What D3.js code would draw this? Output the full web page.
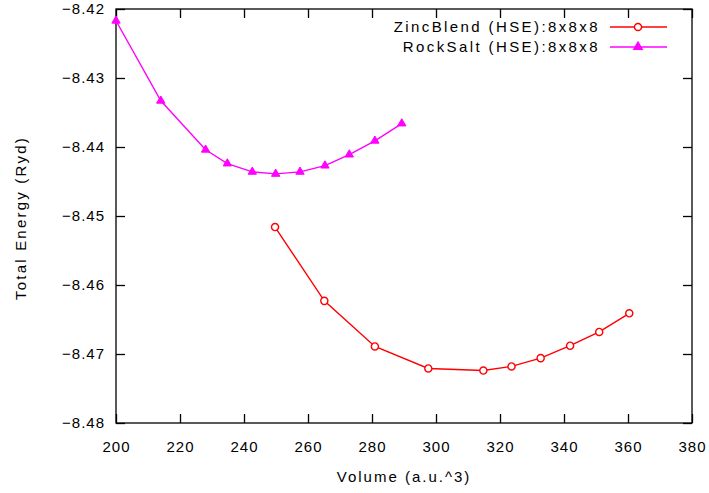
<!DOCTYPE html>
<html><head><meta charset="utf-8">
<script src="https://cdn.jsdelivr.net/npm/d3@7"></script>
<style>body{margin:0;background:#fff}svg{display:block}text{font-family:"Liberation Sans",Arial,sans-serif;fill:#000}</style>
</head><body><svg id="c" width="709" height="493"></svg>
<script>
const xTicks=[200,220,240,260,280,300,320,340,360,380];
const yTicks=[-8.42,-8.43,-8.44,-8.45,-8.46,-8.47,-8.48];
const seriesNames=["ZincBlend (HSE):8x8x8","RockSalt (HSE):8x8x8"];
const zbVolume=[249.7,265.1,280.9,297.6,314.8,323.6,332.7,341.9,351.0,360.4];
const zbEnergy=[-8.4516,-8.4623,-8.4689,-8.4721,-8.4724,-8.4718,-8.4706,-8.4688,-8.4668,-8.4641];
const rsVolume=[200.0,214.0,228.0,234.8,242.6,249.9,257.5,265.3,272.9,280.9,289.3];
const rsEnergy=[-8.4217,-8.4333,-8.4404,-8.4424,-8.4436,-8.4439,-8.4436,-8.4427,-8.4411,-8.4391,-8.4366];

const L=116,R=692,T=9,B=423;
const svg=d3.select("#c");
const x=d3.scaleLinear().domain([200,380]).range([L,R]);
const y=d3.scaleLinear().domain([-8.48,-8.42]).range([B,T]);
const tk=9;

svg.append("rect").attr("x",L).attr("y",T).attr("width",R-L).attr("height",B-T)
 .attr("fill","none").attr("stroke","#000").attr("stroke-width",1.3);

const xb=svg.append("g").attr("transform",`translate(0,${B})`)
 .call(d3.axisBottom(x).tickValues(xTicks).tickSize(-tk).tickPadding(tk+9).tickFormat(d3.format("d")));
const xt=svg.append("g").attr("transform",`translate(0,${T})`)
 .call(d3.axisTop(x).tickValues(xTicks).tickSize(-tk).tickFormat(""));
const yl=svg.append("g").attr("transform",`translate(${L},0)`)
 .call(d3.axisLeft(y).tickValues(yTicks).tickSize(-tk).tickPadding(tk+2).tickFormat(d3.format(".2f")));
const yr=svg.append("g").attr("transform",`translate(${R},0)`)
 .call(d3.axisRight(y).tickValues(yTicks).tickSize(-tk).tickFormat(""));
[xb,xt,yl,yr].forEach(g=>{g.select(".domain").remove();
 g.selectAll(".tick line").attr("stroke","#000").attr("stroke-width",1.3);
 g.selectAll("text").style("font-size","15px").style("letter-spacing","1px").style("font-family","'Liberation Sans',Arial,sans-serif").attr("fill","#000");});
xb.selectAll(".tick text").attr("dy","0.71em");

svg.append("text").attr("x",404).attr("y",482).attr("text-anchor","middle").style("font-size","15px").style("letter-spacing","2px").text("Volume (a.u.^3)");
svg.append("text").attr("transform",`translate(26,218) rotate(-90)`).attr("text-anchor","middle").style("font-size","15px").style("letter-spacing","2.2px").text("Total Energy (Ryd)");

const line=d3.line().x(d=>x(d[0])).y(d=>y(d[1]));
const zb=zbVolume.map((v,i)=>[v,zbEnergy[i]]);
const rs=rsVolume.map((v,i)=>[v,rsEnergy[i]]);

svg.append("path").attr("d",line(zb)).attr("fill","none").attr("stroke","#ff0000").attr("stroke-width",1.4);
svg.append("path").attr("d",line(rs)).attr("fill","none").attr("stroke","#ff00ff").attr("stroke-width",1.4);

const circ=d3.symbol().type(d3.symbolCircle).size(40);
const tri=d3.symbol().type(d3.symbolTriangle).size(30);
svg.selectAll(".zb").data(zb).join("path").attr("transform",d=>`translate(${x(d[0])},${y(d[1])})`)
 .attr("d",circ).attr("fill","#fff").attr("stroke","#ff0000").attr("stroke-width",1.4);
svg.selectAll(".rs").data(rs).join("path").attr("transform",d=>`translate(${x(d[0])},${y(d[1])})`)
 .attr("d",tri).attr("fill","#ff00ff").attr("stroke","#ff00ff").attr("stroke-width",1);

const leg=[{n:seriesNames[0],c:"#ff0000",s:circ,f:"#fff"},{n:seriesNames[1],c:"#ff00ff",s:tri,f:"#ff00ff"}];
leg.forEach((l,i)=>{
 const yy=27+i*20;
 svg.append("text").attr("x",600).attr("y",yy).attr("dy","0.35em").attr("text-anchor","end").style("font-size","15px").style("letter-spacing","2.4px").text(l.n);
 svg.append("line").attr("x1",610).attr("x2",667).attr("y1",yy).attr("y2",yy).attr("stroke",l.c).attr("stroke-width",1.4);
 svg.append("path").attr("transform",`translate(638,${yy})`).attr("d",l.s).attr("fill",l.f).attr("stroke",l.c).attr("stroke-width",1.4);
});
</script></body></html>
